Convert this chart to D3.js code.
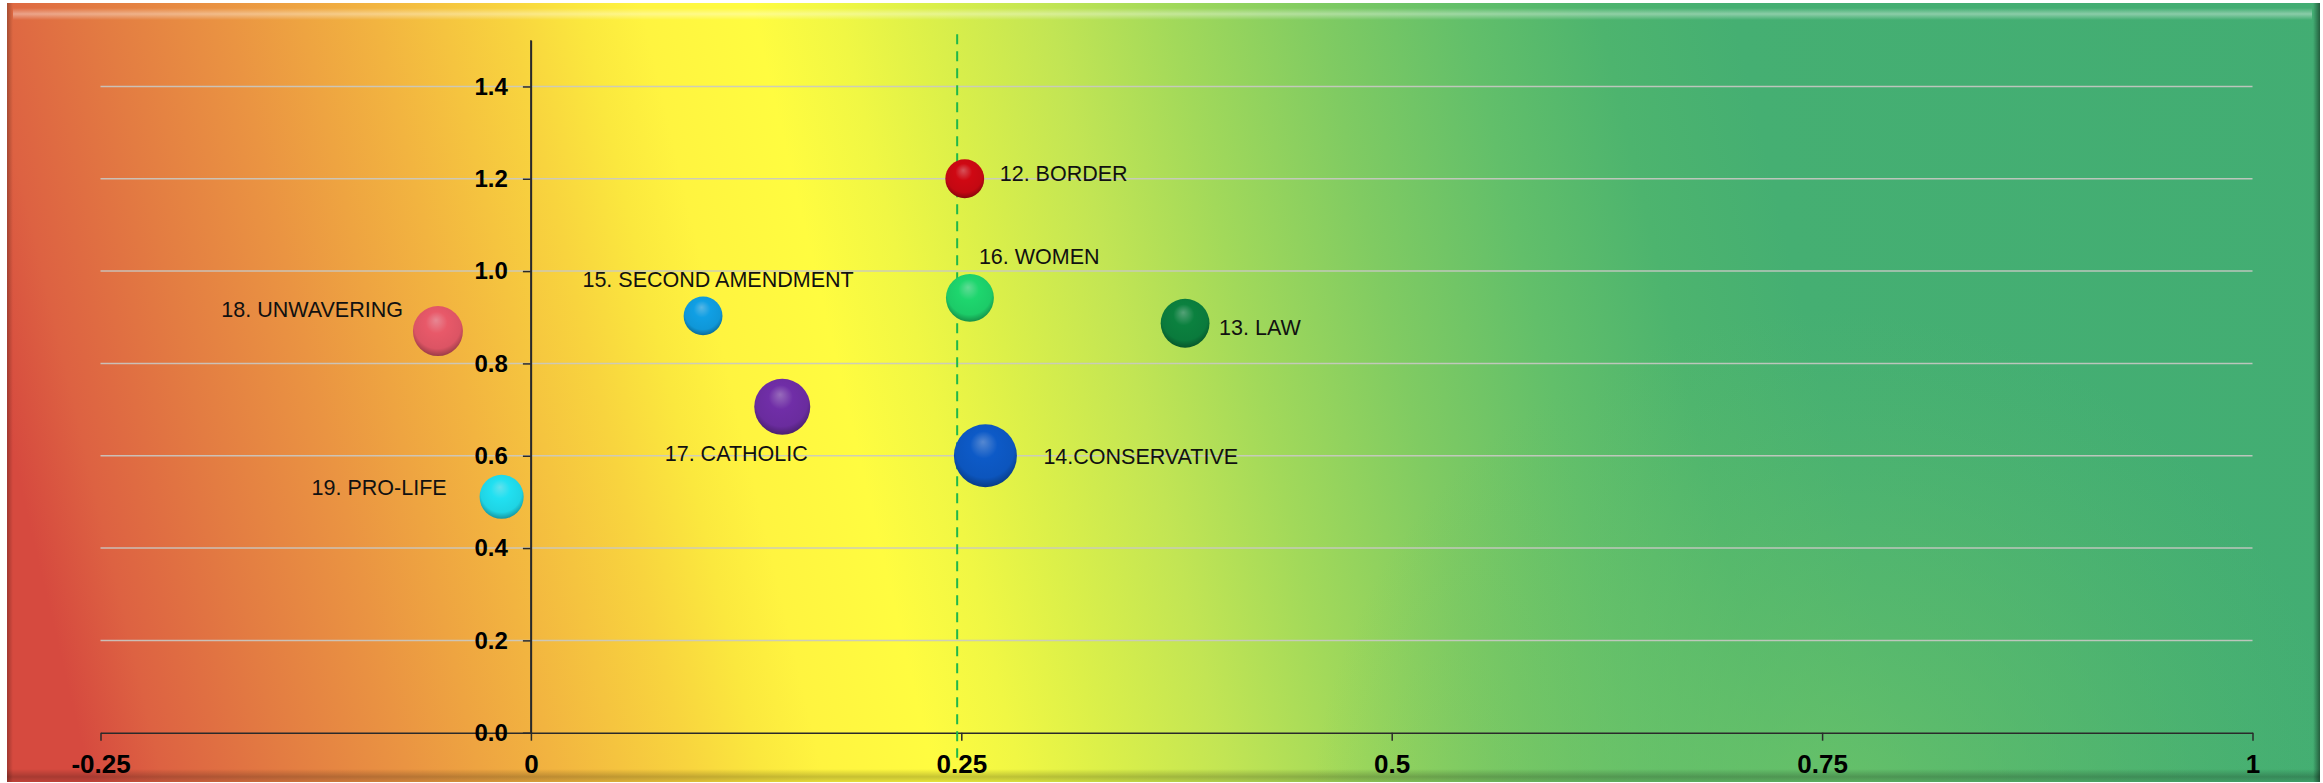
<!DOCTYPE html>
<html>
<head>
<meta charset="utf-8">
<script src="https://cdn.jsdelivr.net/npm/d3@7/dist/d3.min.js"></script>
<style>
  html, body { margin: 0; padding: 0; background: #ffffff; }
  svg { display: block; }
  text { font-family: "Liberation Sans", Arial, Helvetica, sans-serif; }
</style>
</head>
<body>
<svg id="chart" width="2323" height="783"></svg>
<script>
// ---------------- DATA ----------------
const categories = ["12. BORDER", "13. LAW", "14.CONSERVATIVE", "15. SECOND AMENDMENT",
                    "16. WOMEN", "17. CATHOLIC", "18. UNWAVERING", "19. PRO-LIFE"];
const xValues    = [0.252, 0.380, 0.264, 0.100, 0.255, 0.146, -0.054, -0.017];
const yValues    = [1.200, 0.887, 0.600, 0.903, 0.942, 0.706, 0.870, 0.511];
const sizeValues = [38, 60, 100, 38, 58, 79, 63, 49];
const xTickValues = [-0.25, 0, 0.25, 0.5, 0.75, 1];
const xTickLabels = ["-0.25", "0", "0.25", "0.5", "0.75", "1"];
const yTickValues = [0, 0.2, 0.4, 0.6, 0.8, 1.0, 1.2, 1.4];
const yTickLabels = ["0.0", "0.2", "0.4", "0.6", "0.8", "1.0", "1.2", "1.4"];
const referenceX = 0.2476;

// ---------------- STYLE / LAYOUT ----------------
const bubbleColors = ["#c40812", "#0a7a3c", "#0c55bd", "#0f97d8", "#1ccb68", "#6a2c9e", "#dc5464", "#1fd4e4"];
// label placement relative to bubble centre: [dx, dy, anchor]
const labelPlacement = [
  [35, 2, "start"], [34, 12, "start"], [58, 8, "start"], [15, -29, "middle"],
  [9, -34, "start"], [-46, 54, "middle"], [-35, -14, "end"], [-55, -2, "end"]
];

const frame = {x: 7, y: 3, w: 2313, h: 779};
const plot = {left: 100.5, right: 2252.5, top: 40.3, bottom: 732.7};

const svg = d3.select("#chart");
const defs = svg.append("defs");

// Background gradient (slightly tilted)
const bg = defs.append("linearGradient").attr("id", "bgGrad")
  .attr("gradientUnits", "userSpaceOnUse")
  .attr("x1", 0).attr("y1", 400).attr("x2", 2320).attr("y2", -150);
[[0.00, "#d64a3f"], [0.03, "#dd6242"], [0.08, "#e37c42"], [0.13, "#ea9442"], [0.19, "#f2b440"],
 [0.245, "#f8d43e"], [0.275, "#fbe83e"], [0.30, "#fff440"], [0.345, "#fffc40"], [0.38, "#f0f744"],
 [0.415, "#dcf049"], [0.465, "#c2e554"], [0.515, "#a2d95a"], [0.575, "#80cb62"], [0.635, "#62bf6a"],
 [0.69, "#4db46e"], [0.745, "#45af72"], [1.0, "#42ad73"]]
  .forEach(([o, c]) => bg.append("stop").attr("offset", o).attr("stop-color", c));

// lighter green glow in the lower right
const glow = defs.append("radialGradient").attr("id", "glow")
  .attr("gradientUnits", "userSpaceOnUse")
  .attr("cx", 1830).attr("cy", 830).attr("r", 520);
glow.append("stop").attr("offset", 0).attr("stop-color", "#74c866").attr("stop-opacity", 0.75);
glow.append("stop").attr("offset", 0.55).attr("stop-color", "#68c268").attr("stop-opacity", 0.35);
glow.append("stop").attr("offset", 1).attr("stop-color", "#5cbc6a").attr("stop-opacity", 0);

// bevel gradients
const topHl = defs.append("linearGradient").attr("id", "topHl").attr("x1", 0).attr("y1", 0).attr("x2", 0).attr("y2", 1);
topHl.append("stop").attr("offset", 0).attr("stop-color", "#ffffff").attr("stop-opacity", 0.0);
topHl.append("stop").attr("offset", 0.5).attr("stop-color", "#ffffff").attr("stop-opacity", 0.38);
topHl.append("stop").attr("offset", 1).attr("stop-color", "#ffffff").attr("stop-opacity", 0.0);
const botSh = defs.append("linearGradient").attr("id", "botSh").attr("x1", 0).attr("y1", 0).attr("x2", 0).attr("y2", 1);
botSh.append("stop").attr("offset", 0).attr("stop-color", "#000000").attr("stop-opacity", 0.0);
botSh.append("stop").attr("offset", 0.6).attr("stop-color", "#000000").attr("stop-opacity", 0.22);
botSh.append("stop").attr("offset", 1).attr("stop-color", "#000000").attr("stop-opacity", 0.1);
const leftSh = defs.append("linearGradient").attr("id", "leftSh").attr("x1", 0).attr("y1", 0).attr("x2", 1).attr("y2", 0);
leftSh.append("stop").attr("offset", 0).attr("stop-color", "#000000").attr("stop-opacity", 0.25);
leftSh.append("stop").attr("offset", 1).attr("stop-color", "#000000").attr("stop-opacity", 0.0);
const rightSh = defs.append("linearGradient").attr("id", "rightSh").attr("x1", 0).attr("y1", 0).attr("x2", 1).attr("y2", 0);
rightSh.append("stop").attr("offset", 0).attr("stop-color", "#000000").attr("stop-opacity", 0.0);
rightSh.append("stop").attr("offset", 1).attr("stop-color", "#000000").attr("stop-opacity", 0.45);

svg.append("rect").attr("x", frame.x).attr("y", frame.y).attr("width", frame.w).attr("height", frame.h)
  .attr("fill", "url(#bgGrad)");
svg.append("rect").attr("x", frame.x).attr("y", frame.y).attr("width", frame.w).attr("height", frame.h)
  .attr("fill", "url(#glow)");
svg.append("rect").attr("x", frame.x + 6).attr("y", frame.y + 5).attr("width", frame.w - 14).attr("height", 12)
  .attr("fill", "url(#topHl)");
svg.append("rect").attr("x", frame.x).attr("y", frame.y).attr("width", 6).attr("height", frame.h)
  .attr("fill", "url(#leftSh)");
svg.append("rect").attr("x", frame.x + frame.w - 7).attr("y", frame.y).attr("width", 7).attr("height", frame.h)
  .attr("fill", "url(#rightSh)");
svg.append("rect").attr("x", frame.x).attr("y", frame.y + frame.h - 13).attr("width", frame.w).attr("height", 13)
  .attr("fill", "url(#botSh)");

// ---------------- SCALES ----------------
const x = d3.scaleLinear().domain([-0.25, 1]).range([plot.left, plot.right]);
const y = d3.scaleLinear().domain([0, 1.5]).range([plot.bottom, plot.top]);
const r = d3.scaleSqrt().domain([0, d3.max(sizeValues)]).range([0, 31.5]);

// gridlines
svg.append("g").selectAll("line").data(yTickValues.filter(v => v > 0)).join("line")
  .attr("x1", plot.left).attr("x2", plot.right)
  .attr("y1", d => y(d)).attr("y2", d => y(d))
  .attr("stroke", "#c9c9c4").attr("stroke-opacity", 0.9).attr("stroke-width", 1.5);

// X axis
const xAxis = d3.axisBottom(x).tickValues(xTickValues)
  .tickFormat((d, i) => xTickLabels[i]).tickSize(8).tickSizeOuter(0).tickPadding(14);
const gx = svg.append("g").attr("transform", `translate(0,${y(0)})`).call(xAxis);
gx.select(".domain").attr("stroke", "#2a2a2a").attr("stroke-width", 1.5);
gx.selectAll(".tick line").attr("stroke", "#2a2a2a").attr("stroke-width", 1.5);
gx.selectAll(".tick text").attr("fill", "#000").attr("font-size", 26).attr("font-weight", "bold")
  .attr("font-family", "'Liberation Sans', Arial, sans-serif");

// Y axis at x = 0
const yAxis = d3.axisLeft(y).tickValues(yTickValues)
  .tickFormat((d, i) => yTickLabels[i]).tickSize(8).tickSizeOuter(0).tickPadding(15);
const gy = svg.append("g").attr("transform", `translate(${x(0)},0)`).call(yAxis);
gy.select(".domain").attr("stroke", "#2a2a2a").attr("stroke-width", 1.5);
gy.selectAll(".tick line").attr("stroke", "#2a2a2a").attr("stroke-width", 1.5);
gy.selectAll(".tick text").attr("fill", "#000").attr("font-size", 24).attr("font-weight", "bold")
  .attr("font-family", "'Liberation Sans', Arial, sans-serif");
gy.append("line").attr("x1", 0).attr("x2", 0).attr("y1", y(1.5)).attr("y2", y(0))
  .attr("stroke", "#2a2a2a").attr("stroke-width", 1.5);

// reference dashed line
svg.append("line")
  .attr("x1", x(referenceX)).attr("x2", x(referenceX))
  .attr("y1", y(1.5) - 6).attr("y2", y(0) + 25)
  .attr("stroke", "#1fb84a").attr("stroke-width", 2).attr("stroke-dasharray", "10,7");

// bubble gradients
const data = categories.map((c, i) => ({name: c, x: xValues[i], y: yValues[i], s: sizeValues[i], i}));
data.forEach(d => {
  const base = d3.color(bubbleColors[d.i]);
  const g = defs.append("radialGradient").attr("id", "bub" + d.i)
    .attr("cx", "50%").attr("cy", "42%").attr("r", "62%").attr("fx", "46%").attr("fy", "28%");
  g.append("stop").attr("offset", 0).attr("stop-color", d3.interpolateRgb(base, "#ffffff")(0.3));
  g.append("stop").attr("offset", 0.35).attr("stop-color", base.brighter(0.15).formatHex());
  g.append("stop").attr("offset", 0.75).attr("stop-color", base.formatHex());
  g.append("stop").attr("offset", 1).attr("stop-color", base.darker(1.3).formatHex());
});

svg.append("g").selectAll("circle").data(data).join("circle")
  .attr("cx", d => x(d.x)).attr("cy", d => y(d.y)).attr("r", d => r(d.s))
  .attr("fill", d => `url(#bub${d.i})`);

// labels
svg.append("g").selectAll("text").data(data).join("text")
  .attr("x", d => x(d.x) + labelPlacement[d.i][0])
  .attr("y", d => y(d.y) + labelPlacement[d.i][1])
  .attr("text-anchor", d => labelPlacement[d.i][2])
  .attr("font-size", 21.5).attr("fill", "#111")
  .text(d => d.name);
</script>
</body>
</html>
